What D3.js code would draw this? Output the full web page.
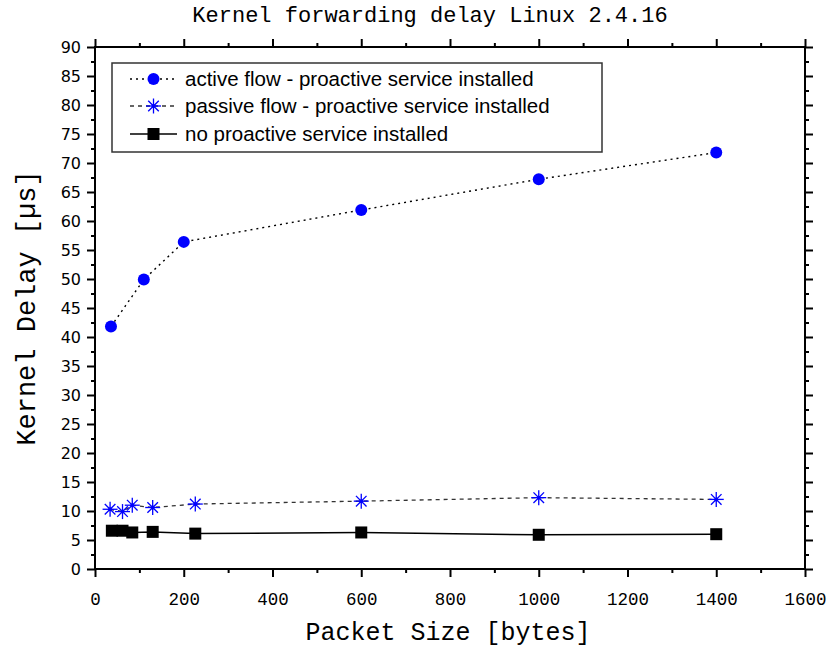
<!DOCTYPE html>
<html>
<head>
<meta charset="UTF-8" />
<script src="https://cdn.jsdelivr.net/npm/d3@7"></script>
<style>
  body { margin: 0; background: white; }
</style>
</head>
<body>
<div id="chart"></div>
<script>
// values
const activeX = [36, 110, 200, 600, 1000, 1400];
const activeY = [41.8, 49.9, 56.4, 61.9, 67.2, 71.8];
const passiveX = [34, 62, 84, 130, 226, 600, 1000, 1400];
const passiveY = [10.3, 9.9, 11.0, 10.6, 11.2, 11.7, 12.3, 12.0];
const noneX = [38, 62, 84, 130, 226, 600, 1000, 1400];
const noneY = [6.6, 6.6, 6.3, 6.4, 6.1, 6.3, 5.9, 6.0];
const seriesNames = [
    "active flow - proactive service installed",
    "passive flow - proactive service installed",
    "no proactive service installed"
];
const xTicks = [0, 200, 400, 600, 800, 1000, 1200, 1400, 1600];
const yTicks = [0, 5, 10, 15, 20, 25, 30, 35, 40, 45, 50, 55, 60, 65, 70, 75, 80, 85, 90];

const W = 833, H = 651;
const pLeft = 95, pRight = 805, pTop = 47, pBottom = 569;
const mono = "'Liberation Mono', 'Courier New', monospace";

const svg = d3.select("#chart").append("svg").attr("width", W).attr("height", H);

const x = d3.scaleLinear().domain([0, 1600]).range([pLeft, pRight]);
const y = d3.scaleLinear().domain([0, 90]).range([pBottom, pTop]);

const xMinor = d3.range(100, 1600, 200);
const yMinor = d3.range(2.5, 90, 5);

// axes: bottom/left outward, top/right inward
function drawAxis(axis, transform, major, minor, bigLen, smallLen, labels) {
    const g = svg.append("g").attr("transform", transform);
    g.call(axis.tickValues(minor).tickSize(smallLen).tickFormat(""));
    g.select(".domain").remove();
    const g2 = svg.append("g").attr("transform", transform);
    g2.call(axis.tickValues(major).tickSize(bigLen).tickFormat(labels ? d3.format("d") : ""));
    g2.selectAll("line").attr("stroke", "#000").attr("stroke-width", 2);
    g.selectAll("line").attr("stroke", "#000").attr("stroke-width", 2);
    g2.select(".domain").remove();
    return g2;
}

const gx = drawAxis(d3.axisBottom(x), `translate(0,${pBottom})`, xTicks, xMinor, 8, 4, true);
gx.selectAll("text").attr("font-family", mono).attr("font-size", "17.5px").attr("fill", "#000").attr("y", 24);

const gy = drawAxis(d3.axisLeft(y), `translate(${pLeft},0)`, yTicks, yMinor, 8, 4, true);
gy.selectAll("text").attr("font-family", "'DejaVu Sans', sans-serif").attr("font-size", "16px").attr("fill", "#000").attr("x", -14);

drawAxis(d3.axisBottom(x), `translate(0,${pTop})`, xTicks, xMinor, -8, -4, false);
drawAxis(d3.axisLeft(y), `translate(${pRight},0)`, yTicks, yMinor, -8, -4, false);

// frame
svg.append("rect").attr("x", pLeft).attr("y", pTop)
    .attr("width", pRight - pLeft).attr("height", pBottom - pTop)
    .attr("fill", "none").attr("stroke", "#000").attr("stroke-width", 2);

// titles
svg.append("text").attr("x", 430).attr("y", 22).attr("text-anchor", "middle")
    .attr("font-family", mono).attr("font-size", "22px").text("Kernel forwarding delay Linux 2.4.16");
svg.append("text").attr("x", 448).attr("y", 640).attr("text-anchor", "middle")
    .attr("font-family", mono).attr("font-size", "25px").text("Packet Size [bytes]");
svg.append("text").attr("transform", "translate(35,308) rotate(-90)").attr("text-anchor", "middle")
    .attr("font-family", mono).attr("font-size", "27px").text("Kernel Delay [\u00b5s]");

const line = d3.line().x(d => x(d[0])).y(d => y(d[1]));
const activePts = activeX.map((v, i) => [v, activeY[i]]);
const passivePts = passiveX.map((v, i) => [v, passiveY[i]]);
const nonePts = noneX.map((v, i) => [v, noneY[i]]);

svg.append("path").datum(activePts).attr("d", line).attr("fill", "none")
    .attr("stroke", "#000").attr("stroke-width", 1.4).attr("stroke-dasharray", "2,4");
svg.append("path").datum(passivePts).attr("d", line).attr("fill", "none")
    .attr("stroke", "#333").attr("stroke-width", 1.3).attr("stroke-dasharray", "4,4");
svg.append("path").datum(nonePts).attr("d", line).attr("fill", "none")
    .attr("stroke", "#000").attr("stroke-width", 1.5);

function star(g, cx, cy, r) {
    for (let k = 0; k < 4; k++) {
        const a = k * Math.PI / 4;
        g.append("line")
            .attr("x1", cx - r * Math.cos(a)).attr("y1", cy - r * Math.sin(a))
            .attr("x2", cx + r * Math.cos(a)).attr("y2", cy + r * Math.sin(a))
            .attr("stroke", "#0000ff").attr("stroke-width", 1.3);
    }
    g.append("circle").attr("cx", cx).attr("cy", cy).attr("r", 2).attr("fill", "#0000ff");
}

svg.selectAll("circle.active").data(activePts).enter().append("circle")
    .attr("class", "active").attr("cx", d => x(d[0])).attr("cy", d => y(d[1]))
    .attr("r", 6).attr("fill", "#0000ff");
const gs = svg.append("g");
passivePts.forEach(d => star(gs, x(d[0]), y(d[1]), 7.5));
svg.selectAll("rect.none").data(nonePts).enter().append("rect")
    .attr("class", "none").attr("x", d => x(d[0]) - 6).attr("y", d => y(d[1]) - 6)
    .attr("width", 12).attr("height", 12).attr("fill", "#000");

// legend
const lg = svg.append("g");
lg.append("rect").attr("x", 112).attr("y", 63).attr("width", 490).attr("height", 89)
    .attr("fill", "white").attr("stroke", "#333").attr("stroke-width", 1.5);
const rows = [79, 106, 134];
const sx1 = 130, sx2 = 177, sm = 153.5;
lg.append("line").attr("x1", sx1).attr("x2", sx2).attr("y1", rows[0]).attr("y2", rows[0])
    .attr("stroke", "#000").attr("stroke-width", 1.4).attr("stroke-dasharray", "2,4");
lg.append("circle").attr("cx", sm).attr("cy", rows[0]).attr("r", 6).attr("fill", "#0000ff");
lg.append("line").attr("x1", sx1).attr("x2", sx2).attr("y1", rows[1]).attr("y2", rows[1])
    .attr("stroke", "#333").attr("stroke-width", 1.3).attr("stroke-dasharray", "4,4");
star(lg, sm, rows[1], 7.5);
lg.append("line").attr("x1", sx1).attr("x2", sx2).attr("y1", rows[2]).attr("y2", rows[2])
    .attr("stroke", "#000").attr("stroke-width", 1.5);
lg.append("rect").attr("x", sm - 6).attr("y", rows[2] - 6).attr("width", 12).attr("height", 12).attr("fill", "#000");
seriesNames.forEach((n, i) => {
    lg.append("text").attr("x", 185).attr("y", rows[i] + 7)
        .attr("font-family", "'Liberation Sans', Arial, sans-serif").attr("font-size", "20.5px")
        .attr("fill", "#000").text(n);
});
</script>
</body>
</html>
